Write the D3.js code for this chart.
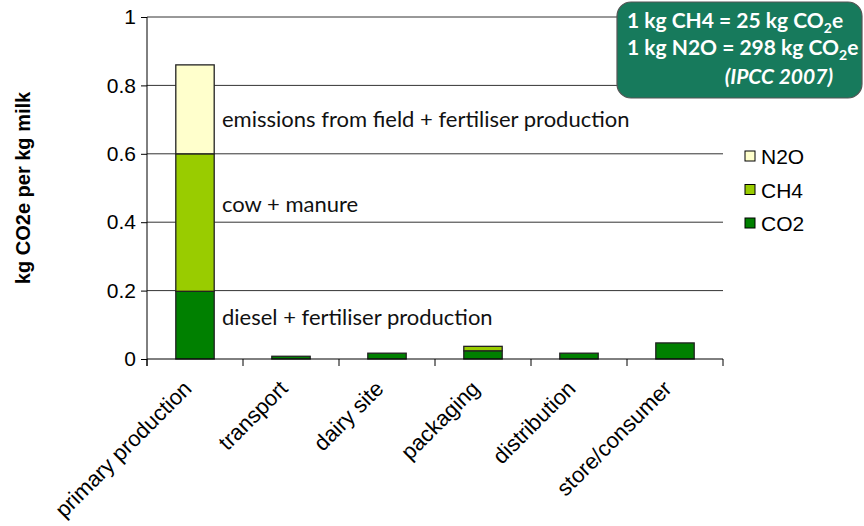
<!DOCTYPE html>
<meta charset="utf-8">
<style>
body { margin: 0; background: #fff; }
svg text { font-family: "Liberation Sans", Arial, sans-serif; }
.note { font-family: Lato, "Open Sans", sans-serif; fill: #111; }
.box text { font-family: Lato, "Open Sans", sans-serif; fill: #fff; font-weight: bold; }
</style>
<svg width="864" height="526"></svg>
<script src="https://d3js.org/d3.v7.min.js"></script>
<script>

// data
var categories = ["primary production", "transport", "dairy site", "packaging", "distribution", "store/consumer"];
var co2 = [0.198, 0.008, 0.017, 0.024, 0.017, 0.047];
var ch4 = [0.402, 0, 0, 0.013, 0, 0];
var n2o = [0.26, 0, 0, 0, 0, 0];
var seriesNames = ["CO2", "CH4", "N2O"];
var seriesColors = ["#008000", "#99CC00", "#FFFFCC"];
var yTicks = [0, 0.2, 0.4, 0.6, 0.8, 1];
var yTickLabels = ["0", "0.2", "0.4", "0.6", "0.8", "1"];

var svg = d3.select("svg");

var plotLeft = 147, plotRight = 723, plotTop = 17, plotBottom = 359;

var x = d3.scaleBand().domain(categories).range([plotLeft, plotRight]).paddingInner(0.6).paddingOuter(0.3);
var y = d3.scaleLinear().domain([0, 1]).range([plotBottom, plotTop]);

var rows = categories.map(function(c, i) {
  return { cat: c, CO2: co2[i], CH4: ch4[i], N2O: n2o[i] };
});
var stack = d3.stack().keys(seriesNames)(rows);

// gridlines
svg.append("g")
  .selectAll("line")
  .data(yTicks.slice(1))
  .enter().append("line")
    .attr("x1", plotLeft).attr("x2", plotRight)
    .attr("y1", function(d) { return y(d); })
    .attr("y2", function(d) { return y(d); })
    .attr("stroke", "#333").attr("stroke-width", 1);

// bars
svg.append("g")
  .selectAll("g")
  .data(stack)
  .enter().append("g")
    .attr("fill", function(d, i) { return seriesColors[i]; })
  .selectAll("rect")
  .data(function(d) { return d.filter(function(p) { return p[1] - p[0] > 0; }); })
  .enter().append("rect")
    .attr("x", function(d) { return x(d.data.cat); })
    .attr("width", x.bandwidth())
    .attr("y", function(d) { return y(d[1]); })
    .attr("height", function(d) { return y(d[0]) - y(d[1]); })
    .attr("stroke", "#222").attr("stroke-width", 1.3);

// y axis
var yAxis = svg.append("g")
  .attr("transform", "translate(" + plotLeft + ",0)")
  .call(d3.axisLeft(y).tickValues(yTicks).tickSize(6).tickPadding(5)
    .tickFormat(function(d, i) { return yTickLabels[i]; }));
yAxis.select(".domain").attr("stroke", "#000").attr("d", "M0," + plotTop + "V" + (plotBottom + 7));
yAxis.selectAll(".tick line").attr("stroke", "#000");
yAxis.selectAll("text").attr("font-size", 21).attr("fill", "#000");

// x axis
var step = x.step();
var bounds = d3.range(categories.length + 1).map(function(i) { return plotLeft + i * step; });
svg.append("line")
  .attr("x1", plotLeft).attr("x2", plotRight).attr("y1", plotBottom).attr("y2", plotBottom)
  .attr("stroke", "#000");
svg.append("g").selectAll("line").data(bounds).enter().append("line")
  .attr("x1", function(d) { return d; }).attr("x2", function(d) { return d; })
  .attr("y1", plotBottom).attr("y2", plotBottom + 7)
  .attr("stroke", "#000");

svg.append("g").selectAll("text").data(categories).enter().append("text")
  .attr("transform", function(d) {
    return "translate(" + (x(d) + x.bandwidth() / 2 - 2) + "," + (plotBottom + 31) + ") rotate(-45)";
  })
  .attr("text-anchor", "end")
  .attr("font-size", 22)
  .attr("fill", "#000")
  .text(function(d) { return d; });

// y title
svg.append("text")
  .attr("transform", "translate(30,188) rotate(-90)")
  .attr("text-anchor", "middle")
  .attr("font-size", 20)
  .attr("font-weight", "bold")
  .attr("fill", "#000")
  .text("kg CO2e per kg milk");

// annotations
var notes = [
  { text: "emissions from field + fertiliser production", v: 0.678 },
  { text: "cow + manure", v: 0.43 },
  { text: "diesel + fertiliser production", v: 0.1 }
];
svg.append("g").selectAll("text").data(notes).enter().append("text")
  .attr("class", "note")
  .attr("x", 222)
  .attr("y", function(d) { return y(d.v); })
  .attr("font-size", 22)
  .text(function(d) { return d.text; });

// legend
var legend = svg.append("g").selectAll("g")
  .data(seriesNames.slice().reverse())
  .enter().append("g")
    .attr("transform", function(d, i) { return "translate(745," + (156 + i * 33.5) + ")"; });
legend.append("rect")
  .attr("x", 0).attr("y", -5).attr("width", 10).attr("height", 10)
  .attr("fill", function(d) { return seriesColors[seriesNames.indexOf(d)]; })
  .attr("stroke", "#000");
legend.append("text")
  .attr("x", 16).attr("y", 8)
  .attr("font-size", 21)
  .attr("fill", "#000")
  .text(function(d) { return d; });

// GWP box
var box = svg.append("g").attr("class", "box");
box.append("rect")
  .attr("x", 617).attr("y", 2).attr("width", 245).attr("height", 96)
  .attr("rx", 14).attr("ry", 14)
  .attr("fill", "#177a5c").attr("stroke", "#555").attr("stroke-width", 1.2);
var l1 = box.append("text").attr("x", 627).attr("y", 28).attr("font-size", 21);
l1.append("tspan").text("1 kg CH4 = 25 kg CO");
l1.append("tspan").attr("font-size", 14).attr("dy", 5).text("2");
l1.append("tspan").attr("dy", -5).text("e");
var l2 = box.append("text").attr("x", 627).attr("y", 55).attr("font-size", 21);
l2.append("tspan").text("1 kg N2O = 298 kg CO");
l2.append("tspan").attr("font-size", 14).attr("dy", 5).text("2");
l2.append("tspan").attr("dy", -5).text("e");
box.append("text").attr("x", 833).attr("y", 84).attr("font-size", 21)
  .attr("text-anchor", "end").attr("font-style", "italic")
  .text("(IPCC 2007)");

</script>
